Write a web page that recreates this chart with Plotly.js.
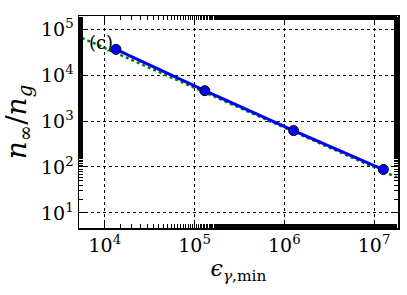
<!DOCTYPE html>
<html><head><meta charset="utf-8">
<script src="https://cdn.plot.ly/plotly-3.0.1.min.js"></script>
<style>body{margin:0;padding:0;background:#fff}#c{width:407px;height:295px}</style>
</head><body><div id="c"></div>
<script>
const epsMin = [1.33e4, 1.3e5, 1.27e6, 1.27e7];
const nRatio = [3.65e4, 4.6e3, 620, 88];
const fitX = [5.55e3, 1.8e7];
const fitY = [6.5e4, 59];
const xTickVals = [1e4, 1e5, 1e6, 1e7];
const xTickText = ['10<sup>4</sup>', '10<sup>5</sup>', '10<sup>6</sup>', '10<sup>7</sup>'];
const yTickVals = [1e1, 1e2, 1e3, 1e4, 1e5];
const yTickText = ['10<sup>1</sup>', '10<sup>2</sup>', '10<sup>3</sup>', '10<sup>4</sup>', '10<sup>5</sup>'];
const panelLabel = '(c)';

const SERIF = "DejaVu Serif";
const axisCommon = {
  type: 'log', showline: true, linecolor: '#000', linewidth: 1.5, mirror: 'allticks',
  ticks: 'inside', ticklen: 7, tickwidth: 1, tickcolor: '#000',
  minor: {ticks: 'inside', ticklen: 4, tickwidth: 1, tickcolor: '#000', showgrid: false},
  showgrid: true, gridcolor: '#000', griddash: 'dot', gridwidth: 1, zeroline: false,
  tickfont: {family: SERIF, size: 19, color: '#000'}
};
const data = [
  {x: fitX, y: fitY, mode: 'lines', line: {color: '#008000', width: 2.5, dash: 'dot'}, hoverinfo: 'skip'},
  {x: epsMin, y: nRatio, mode: 'lines+markers', line: {color: '#0000ff', width: 3},
   marker: {color: '#0000ff', size: 10, line: {color: '#000', width: 1}}}
];
const layout = {
  width: 407, height: 295, showlegend: false,
  margin: {l: 79, r: 9, t: 16, b: 67},
  paper_bgcolor: '#fff', plot_bgcolor: '#fff', font: {family: SERIF, color: '#000'},
  xaxis: Object.assign({}, axisCommon, {
    range: [Math.log10(5.15e3), Math.log10(1.85e7)], tickvals: xTickVals, ticktext: xTickText,
    title: {text: '<i>ϵ</i><sub><i>γ</i>,min</sub>', font: {family: SERIF, size: 22, color: '#000'}, standoff: 2}
  }),
  yaxis: Object.assign({}, axisCommon, {
    range: [0.67, 5.29], tickvals: yTickVals, ticktext: yTickText,
    title: {text: '<i>n</i><sub>∞</sub>/<i>n</i><sub><i>g</i></sub>', font: {family: SERIF, size: 28, color: '#000'}, standoff: 6}
  }),
  annotations: [{xref: 'paper', yref: 'paper', x: 0.025, y: 0.877, xanchor: 'left', yanchor: 'middle',
    text: panelLabel, showarrow: false, font: {family: SERIF, size: 18, color: '#000'}}]
};
Plotly.newPlot('c', data, layout, {displayModeBar: false, staticPlot: true});
</script></body></html>
